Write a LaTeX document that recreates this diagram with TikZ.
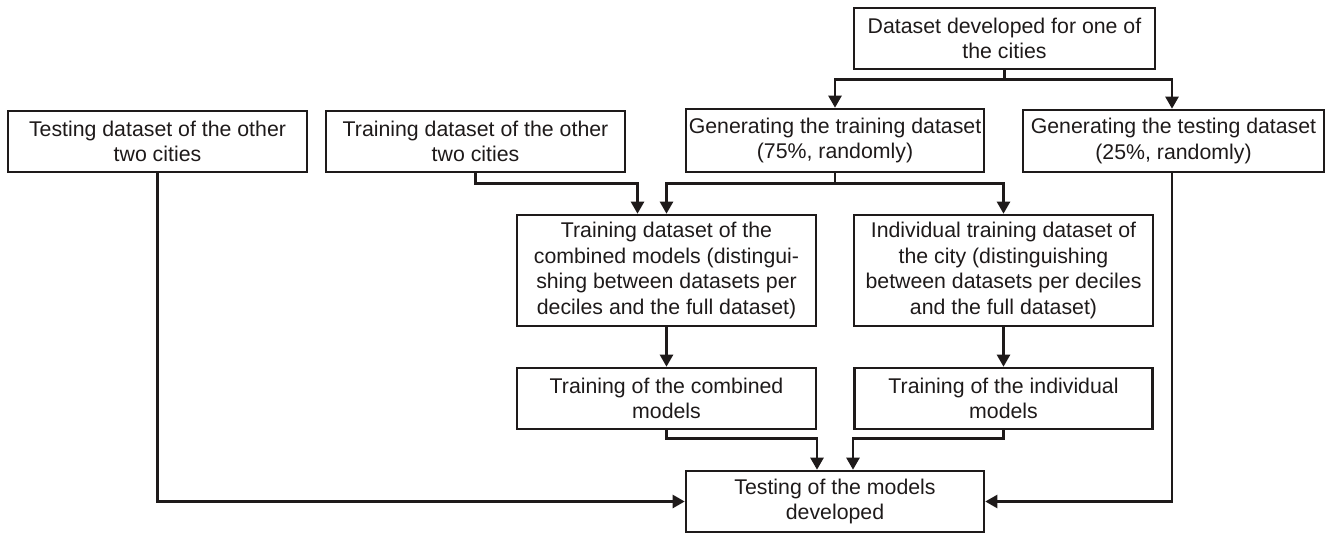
\documentclass[tikz,border=0pt]{standalone}
\usepackage{fontspec}
\setmainfont{Liberation Sans}
\usetikzlibrary{arrows.meta}
\definecolor{ink}{RGB}{30,26,26}
\begin{document}
\begin{tikzpicture}[x=1pt,y=-1pt,
  box/.style={draw=ink,line width=2.6pt,inner sep=0pt,align=center,
    font=\fontsize{21.3}{25.5}\selectfont,text=ink},
  arr/.style={draw=ink,line width=2.4pt,-{Triangle[length=12pt,width=13pt]}}]
\useasboundingbox (0,0) rectangle (1330,535);
\node[box,minimum width=301pt,minimum height=61pt] (top) at (1004.5,38.5) {Dataset developed for one of\\the cities};
\node[box,minimum width=298pt,minimum height=63pt] (gtrain) at (835,140.5) {Generating the training dataset\\(75\%, randomly)};
\node[box,minimum width=301pt,minimum height=62pt] (gtest) at (1173.5,141) {Generating the testing dataset\\(25\%, randomly)};
\node[box,minimum width=299pt,minimum height=61pt] (otest) at (157.5,141.5) {Testing dataset of the other\\two cities};
\node[box,minimum width=299pt,minimum height=61pt] (otrain) at (475.5,141.5) {Training dataset of the other\\two cities};
\node[box,minimum width=299pt,minimum height=111pt] (comb) at (666.5,270.5) {Training dataset of the\\combined models (distingui-\\shing between datasets per\\deciles and the full dataset)};
\node[box,minimum width=299pt,minimum height=111pt] (indiv) at (1003.5,270.5) {Individual training dataset of\\the city (distinguishing\\between datasets per deciles\\and the full dataset)};
\node[box,minimum width=299pt,minimum height=61pt] (tcomb) at (666.5,398.5) {Training of the combined\\models};
\node[box,minimum width=298pt,minimum height=61pt] (tindiv) at (1003.5,398.5) {Training of the individual\\models};
\node[box,minimum width=298pt,minimum height=61pt] (test) at (835,501.5) {Testing of the models\\developed};
% connectors
\draw[arr] (top.south) -- ++(0,9) -| (gtrain.north);
\draw[arr] (top.south) -- ++(0,9) -| ([xshift=-1.5pt]gtest.north);
\draw[arr] (gtrain.south) -- ++(0,10) -| (comb.north);
\draw[arr] (gtrain.south) -- ++(0,10) -| (indiv.north);
\draw[arr] (otrain.south) -- ++(0,10) -| ([xshift=-29pt]comb.north);
\draw[arr] (comb.south) -- (tcomb.north);
\draw[arr] (indiv.south) -- (tindiv.north);
\draw[arr] (tcomb.south) -- ++(0,8) -| ([xshift=-18pt]test.north);
\draw[arr] (tindiv.south) -- ++(0,8) -| ([xshift=18pt]test.north);
\draw[arr] (otest.south) |- (test.west);
\draw[arr] ([xshift=-1.5pt]gtest.south) |- (test.east);
\end{tikzpicture}
\end{document}
